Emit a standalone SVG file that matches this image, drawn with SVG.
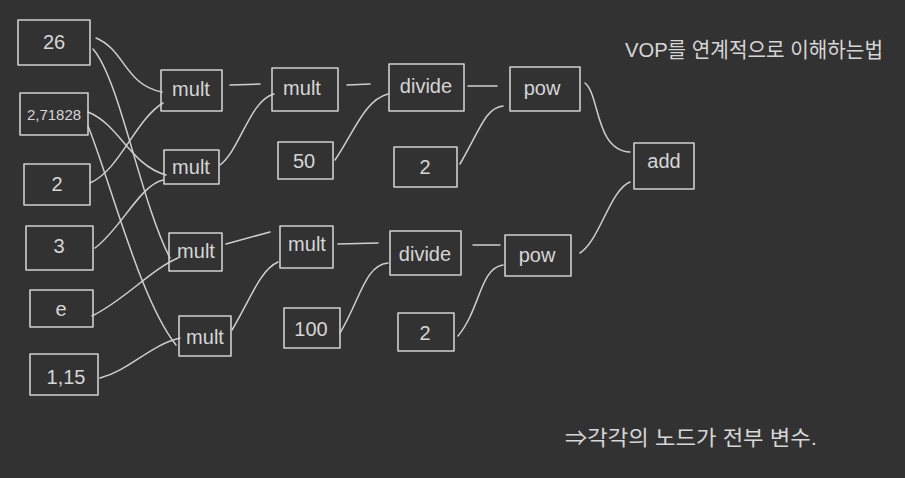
<svg xmlns="http://www.w3.org/2000/svg" width="905" height="478" viewBox="0 0 905 478">
<style>
.box{fill:none;stroke:#cfcfcf;stroke-width:1.6;stroke-linejoin:round;stroke-linecap:round}
.lbl{fill:#d6d6d6;font-family:"Liberation Sans","Noto Sans CJK KR",sans-serif;font-size:20px;text-anchor:middle;dominant-baseline:central}
.note{fill:#d6d6d6;font-family:"Liberation Sans","Noto Sans CJK KR",sans-serif;font-size:21px}
#edges path{fill:none;stroke:#cfcfcf;stroke-width:1.5;stroke-linecap:round}
</style>
<rect width="905" height="478" fill="#323232"/>
<g id="edges">
<path d="M96,38 C125,50 125,85 162,92"/>
<path d="M93,49 C120,80 140,200 170,258"/>
<path d="M88,112 C120,125 130,165 166,175"/>
<path d="M88,126 C110,180 140,300 176,345"/>
<path d="M90,183 C120,170 135,120 163,103"/>
<path d="M95,248 C120,230 140,185 163,180"/>
<path d="M92,316 C125,300 150,270 178,258"/>
<path d="M100,378 C130,370 150,345 180,338"/>
<path d="M230,85 L260,84"/>
<path d="M220,165 C240,150 250,100 274,94"/>
<path d="M226,244 L270,232"/>
<path d="M232,330 C250,300 260,270 278,262"/>
<path d="M347,85 L370,84"/>
<path d="M335,160 C355,130 365,100 388,94"/>
<path d="M338,244 L378,243"/>
<path d="M340,333 C360,300 365,265 388,263"/>
<path d="M468,86 L497,86"/>
<path d="M460,164 C480,130 485,108 503,106"/>
<path d="M473,245 L500,245"/>
<path d="M458,336 C480,310 480,268 503,265"/>
<path d="M585,83 C600,95 595,150 630,152"/>
<path d="M580,253 C600,240 610,190 630,182"/>
</g>
<g id="n26"><rect class="box" x="18" y="20" width="72" height="45"/><text class="lbl" x="54" y="42">26</text></g>
<g id="ne1"><rect class="box" x="20" y="93" width="68" height="42"/><text class="lbl" x="54" y="114" style="font-size:15px">2,71828</text></g>
<g id="n2a"><rect class="box" x="24" y="164" width="66" height="41"/><text class="lbl" x="57" y="184">2</text></g>
<g id="n3"><rect class="box" x="26" y="226" width="67" height="44"/><text class="lbl" x="59" y="246">3</text></g>
<g id="ne2"><rect class="box" x="30" y="290" width="63" height="37"/><text class="lbl" x="61" y="309">e</text></g>
<g id="n115"><rect class="box" x="30" y="354" width="68" height="41"/><text class="lbl" x="66" y="377">1,15</text></g>
<g id="mult1"><rect class="box" x="161" y="70" width="61" height="41"/><text class="lbl" x="191" y="89">mult</text></g>
<g id="mult2"><rect class="box" x="164" y="150" width="55" height="34"/><text class="lbl" x="191" y="167">mult</text></g>
<g id="mult3"><rect class="box" x="169" y="233" width="53" height="38"/><text class="lbl" x="196" y="251">mult</text></g>
<g id="mult4"><rect class="box" x="179" y="316" width="52" height="40"/><text class="lbl" x="205" y="337">mult</text></g>
<g id="mult5"><rect class="box" x="272" y="68" width="66" height="43"/><text class="lbl" x="302" y="88">mult</text></g>
<g id="n50"><rect class="box" x="278" y="142" width="55" height="37"/><text class="lbl" x="304" y="161">50</text></g>
<g id="mult6"><rect class="box" x="280" y="226" width="53" height="42"/><text class="lbl" x="307" y="244">mult</text></g>
<g id="n100"><rect class="box" x="284" y="308" width="56" height="40"/><text class="lbl" x="311" y="329">100</text></g>
<g id="divide1"><rect class="box" x="389" y="64" width="75" height="47"/><text class="lbl" x="426" y="86">divide</text></g>
<g id="n2b"><rect class="box" x="394" y="147" width="63" height="40"/><text class="lbl" x="425" y="167">2</text></g>
<g id="divide2"><rect class="box" x="390" y="231" width="71" height="44"/><text class="lbl" x="425" y="254">divide</text></g>
<g id="n2c"><rect class="box" x="398" y="313" width="56" height="38"/><text class="lbl" x="425" y="333">2</text></g>
<g id="pow1"><rect class="box" x="510" y="67" width="70" height="44"/><text class="lbl" x="542" y="88">pow</text></g>
<g id="pow2"><rect class="box" x="505" y="235" width="66" height="41"/><text class="lbl" x="537" y="255">pow</text></g>
<g id="add"><rect class="box" x="634" y="143" width="60" height="46"/><text class="lbl" x="664" y="161">add</text></g>
<text class="note" x="625" y="57" textLength="258" lengthAdjust="spacingAndGlyphs">VOP를 연계적으로 이해하는법</text>
<text class="note" x="565" y="445" textLength="252" lengthAdjust="spacingAndGlyphs">⇒각각의 노드가 전부 변수.</text>
</svg>
